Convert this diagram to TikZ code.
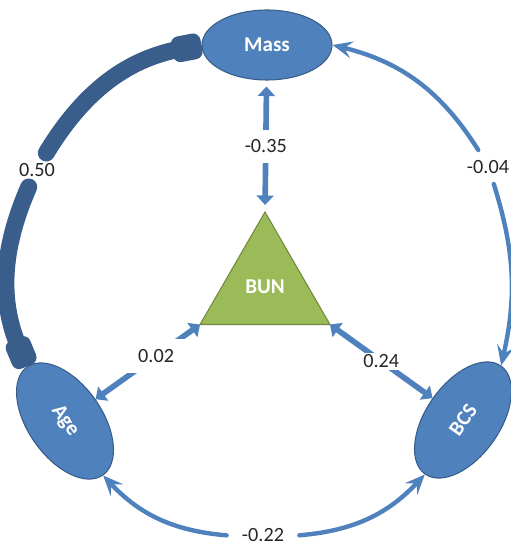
\documentclass[tikz,border=0pt]{standalone}
\usepackage{fontspec}
\setmainfont{Carlito}
\usetikzlibrary{positioning, arrows.meta, shapes.geometric}

\definecolor{varblue}{RGB}{79,129,189}
\definecolor{varline}{RGB}{56,93,138}
\definecolor{darkblue}{RGB}{58,94,140}
\definecolor{bungreen}{RGB}{155,187,89}
\definecolor{bunline}{RGB}{113,137,63}

\begin{document}
\begin{tikzpicture}[
    var/.style={ellipse, draw=varline, line width=0.6pt, fill=varblue, text=white, font=\fontsize{12}{14}\selectfont\bfseries, minimum width=2.6cm, minimum height=1.4cm, inner sep=0pt},
    bun_box/.style={regular polygon, regular polygon sides=3, draw=bunline, line width=0.6pt, fill=bungreen, text=white, font=\fontsize{12}{14}\selectfont\bfseries, minimum size=3cm, inner sep=0pt, outer sep=0pt},
    edge_label/.style={font=\fontsize{11.5}{13}\selectfont, text=black!85, inner xsep=0.3cm, inner ysep=0.2cm},
    link/.style={draw=varblue, line width=3.2pt, >={Triangle[length=1.9mm, width=3.4mm]}, <->},
    thin_arc/.style={draw=varblue, line width=2.5pt, line cap=round, >={Stealth[length=4mm, width=3.4mm, inset=1.6mm]}},
    thick_arc/.style={draw=darkblue, line width=0.34cm, line cap=round, >={Rectangle[round, length=0.6cm, width=0.52cm]}}
]
\useasboundingbox (0,0) rectangle (10.22,10.9);

% ================= Nodes =================

\node[var] (mass) at (5.34, 10.0) {Mass};
\node[var, minimum width=2.64cm, minimum height=1.48cm, rotate=-55] (age) at (1.30, 2.48) {Age};
\node[var, minimum width=2.64cm, minimum height=1.48cm, rotate=55] (bcs) at (9.26, 2.50) {BCS};
\node[bun_box] (bun) at (5.30, 5.16) {BUN};

% ================= Labels on the outer ring =================

\node[edge_label] (lbl_ma) at (0.74, 7.50) {0.50};
\node[edge_label] (lbl_mb) at (9.76, 7.56) {-0.04};
\node[edge_label] (lbl_ab) at (5.26, 0.20) {-0.22};

% ================= Edges =================

% Outer ring between the three measures
\draw[thick_arc, <-] (mass.west) to[bend right=24] (lbl_ma);
\draw[thick_arc, ->] (lbl_ma) to[bend right=23] (age.west);

\draw[thin_arc, <-] (mass.east) to[bend left=22] (lbl_mb);
\draw[thin_arc, ->] (lbl_mb) to[bend left=15] (bcs.east);

\draw[thin_arc, <-] (age.east) to[bend right=21] (lbl_ab);
\draw[thin_arc, ->] (lbl_ab) to[bend right=21] (bcs.west);

% Spokes to BUN
\draw[link, shorten <=0.14cm, shorten >=0.12cm] (bun.corner 1) -- (mass) node[midway, edge_label, fill=white] {-0.35};
\draw[link] (bun.corner 2) -- (age) node[pos=0.42, edge_label, fill=white] {0.02};
\draw[link] (bun.corner 3) -- (bcs) node[midway, edge_label, fill=white, inner sep=1pt] {0.24};

\end{tikzpicture}
\end{document}
